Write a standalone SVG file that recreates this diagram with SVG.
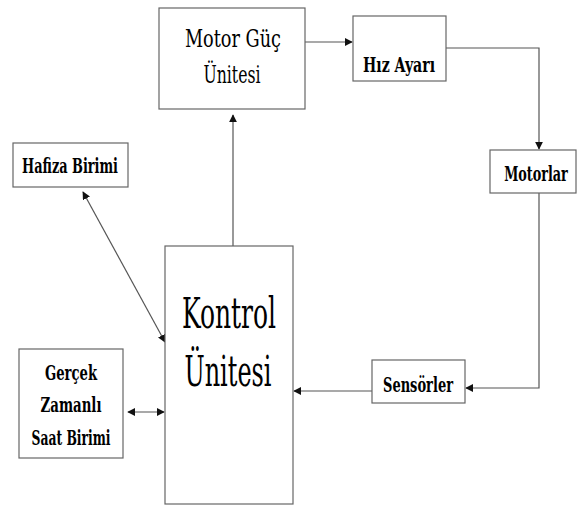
<svg xmlns="http://www.w3.org/2000/svg" width="580" height="509" viewBox="0 0 580 509">
<style>
.box{fill:#fff;stroke:#666;stroke-width:1.2}
text{font-family:"DejaVu Serif Condensed","DejaVu Serif",serif;fill:#000;text-anchor:middle}
.b{font-weight:bold}
.c{fill:none;stroke:#555;stroke-width:1.2}
</style>
<defs>
<marker id="ah" viewBox="0 0 10 10" refX="9" refY="5" markerWidth="8" markerHeight="8" markerUnits="userSpaceOnUse" orient="auto-start-reverse">
<path d="M0,0 L10,5 L0,10 z" fill="#111"/>
</marker>
</defs>
<rect width="580" height="509" fill="#fff"/>
<g id="connectors">
<line class="c" x1="305" y1="42" x2="352" y2="42" marker-end="url(#ah)"/>
<polyline class="c" points="446,48 539,48 539,149" marker-end="url(#ah)"/>
<polyline class="c" points="539,193 539,388 466,388" marker-end="url(#ah)"/>
<line class="c" x1="372" y1="391" x2="294" y2="391" marker-end="url(#ah)"/>
<line class="c" x1="233" y1="246" x2="233" y2="115" marker-end="url(#ah)"/>
<line class="c" x1="83" y1="192" x2="165" y2="342" marker-start="url(#ah)" marker-end="url(#ah)"/>
<line class="c" x1="128" y1="412" x2="164" y2="412" marker-start="url(#ah)" marker-end="url(#ah)"/>
</g>
<g id="motor-guc">
<rect class="box" x="159" y="8" width="146" height="101"/>
<text x="233" y="47" font-size="24" textLength="96" lengthAdjust="spacingAndGlyphs">Motor Güç</text>
<text x="232" y="83" font-size="24" textLength="57" lengthAdjust="spacingAndGlyphs">Ünitesi</text>
</g>
<g id="hiz-ayari">
<rect class="box" x="353" y="16" width="93" height="65"/>
<text class="b" x="399" y="72" font-size="20" textLength="72" lengthAdjust="spacingAndGlyphs">Hız Ayarı</text>
</g>
<g id="motorlar">
<rect class="box" x="490" y="150" width="86" height="43"/>
<text class="b" transform="translate(536,181) scale(0.7,1)" x="0" y="0" font-size="20" textLength="91" lengthAdjust="spacingAndGlyphs">Motorlar</text>
</g>
<g id="hafiza">
<rect class="box" x="13" y="143" width="115" height="44"/>
<text class="b" x="70" y="173" font-size="20" textLength="96" lengthAdjust="spacingAndGlyphs">Hafiza Birimi</text>
</g>
<g id="kontrol">
<rect class="box" x="165" y="246" width="128" height="258"/>
<text x="229" y="328" font-size="42" textLength="94" lengthAdjust="spacingAndGlyphs">Kontrol</text>
<text x="228" y="386" font-size="42" textLength="87" lengthAdjust="spacingAndGlyphs">Ünitesi</text>
</g>
<g id="sensorler">
<rect class="box" x="372" y="360" width="93" height="43"/>
<text class="b" x="418" y="392" font-size="20" textLength="70" lengthAdjust="spacingAndGlyphs">Sensörler</text>
</g>
<g id="gercek">
<rect class="box" x="19" y="349" width="104" height="109"/>
<text class="b" x="71" y="380" font-size="20" textLength="52" lengthAdjust="spacingAndGlyphs">Gerçek</text>
<text class="b" x="71" y="412" font-size="20" textLength="61" lengthAdjust="spacingAndGlyphs">Zamanlı</text>
<text class="b" x="71" y="445" font-size="20" textLength="79" lengthAdjust="spacingAndGlyphs">Saat Birimi</text>
</g>
</svg>
